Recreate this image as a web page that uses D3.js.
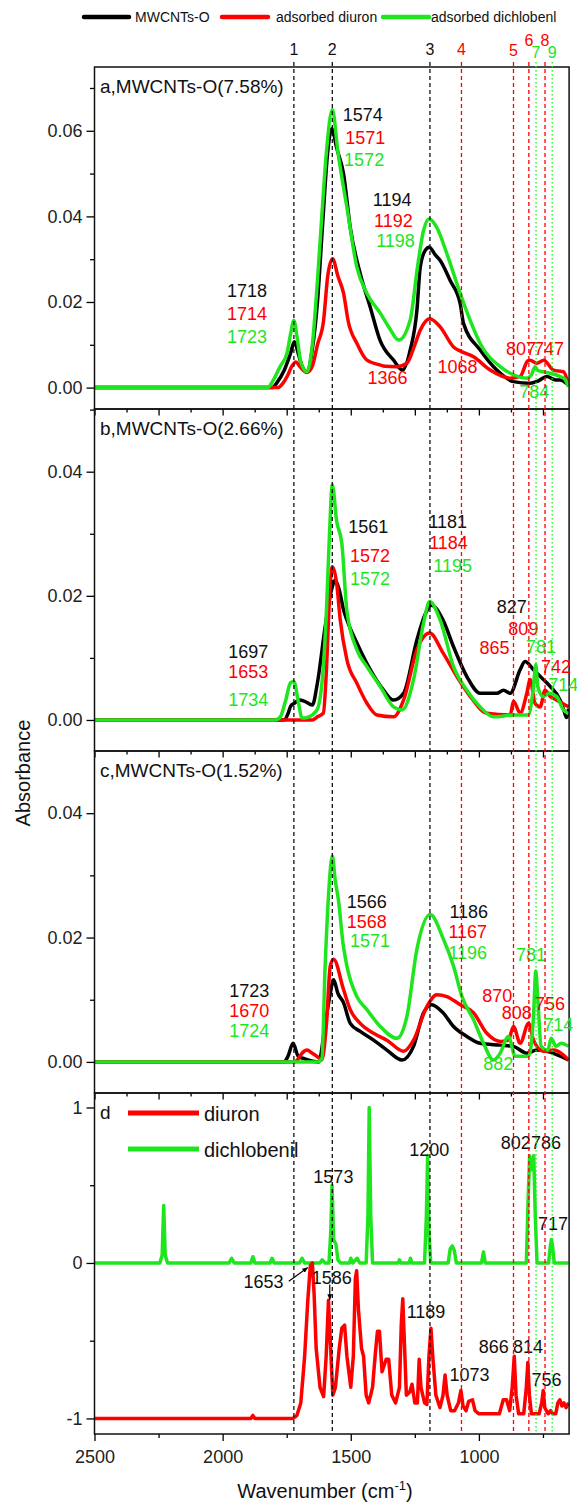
<!DOCTYPE html>
<html>
<head>
<meta charset="utf-8">
<script src="https://cdn.jsdelivr.net/npm/d3@7"></script>
<style>
  body { margin: 0; background: #fff; }
  text { font-family: "Liberation Sans", Arial, sans-serif; }
</style>
</head>
<body>
<svg id="chart" width="577" height="1504"></svg>
<script>
// --- COLOURS ---
const BLACK = "#000000", RED = "#ff0000", GREEN = "#1ee51e";
const COLORS = { k: BLACK, r: RED, g: GREEN };

// --- DATA: [wavenumber, absorbance] ---
const aBlack = [[2500,0],[1805,0],[1790,0.001],[1760,0.004],[1735,0.008],[1720,0.0107],[1705,0.008],[1690,0.005],[1671,0.0037],[1650,0.009],[1630,0.02],[1610,0.038],[1590,0.055],[1574,0.0605],[1555,0.056],[1528,0.0499],[1502,0.0374],[1463,0.0266],[1424,0.0188],[1386,0.0111],[1333,0.0064],[1298,0.0041],[1268,0.0088],[1242,0.018],[1229,0.0281],[1210,0.032],[1194,0.0328],[1170,0.031],[1151,0.0297],[1112,0.025],[1073,0.0196],[1060,0.015],[995,0.0088],[930,0.0041],[865,0.0014],[800,0.001],[770,0.0015],[735,0.0026],[700,0.0018],[683,0.0018],[650,0.0006]];
const aRed = [[2500,0],[1785,0],[1765,0.001],[1745,0.003],[1730,0.005],[1714,0.006],[1700,0.005],[1685,0.004],[1671,0.0035],[1650,0.005],[1630,0.01],[1606,0.0157],[1590,0.026],[1571,0.0301],[1550,0.026],[1528,0.022],[1510,0.0155],[1476,0.0103],[1437,0.0064],[1386,0.0053],[1366,0.005],[1320,0.0049],[1281,0.0057],[1250,0.01],[1229,0.0134],[1192,0.0161],[1151,0.0142],[1099,0.0095],[1068,0.0084],[1021,0.0072],[956,0.0041],[878,0.0022],[839,0.0026],[810,0.0062],[800,0.0064],[774,0.0057],[747,0.0064],[709,0.0041],[670,0.0037],[650,0.0006]];
const aGreen = [[2500,0],[1825,0],[1800,0.002],[1775,0.005],[1749,0.008],[1735,0.0125],[1722,0.0157],[1710,0.012],[1695,0.006],[1671,0.0037],[1650,0.01],[1630,0.025],[1613,0.04],[1595,0.055],[1572,0.065],[1550,0.055],[1515,0.0421],[1476,0.0281],[1437,0.022],[1385,0.0174],[1350,0.014],[1313,0.0111],[1268,0.0158],[1240,0.028],[1216,0.0367],[1195,0.0394],[1164,0.0374],[1125,0.0313],[1073,0.022],[1034,0.0157],[995,0.0103],[917,0.0049],[865,0.003],[813,0.0022],[795,0.003],[781,0.0049],[770,0.004],[748,0.0037],[683,0.0026],[665,0.002],[650,0.0002]];

const bBlack = [[2500,0],[1760,0],[1745,0.001],[1735,0.0022],[1720,0.0027],[1700,0.0032],[1680,0.003],[1650,0.0024],[1630,0.006],[1600,0.015],[1575,0.021],[1561,0.0225],[1545,0.021],[1528,0.0177],[1515,0.0161],[1476,0.0124],[1424,0.0081],[1372,0.0048],[1333,0.0032],[1294,0.0043],[1242,0.0129],[1210,0.017],[1185,0.0185],[1140,0.0161],[1099,0.0118],[1047,0.007],[995,0.0043],[930,0.0043],[904,0.0048],[878,0.0043],[839,0.0081],[820,0.0094],[787,0.0081],[748,0.0065],[722,0.0054],[683,0.0032],[668,0.0015],[658,0.0004],[650,0.0018]];
const bRed = [[2500,0],[1650,0],[1630,0.0005],[1607,0.0011],[1595,0.008],[1585,0.018],[1572,0.0247],[1555,0.022],[1541,0.0161],[1515,0.0097],[1476,0.0059],[1437,0.0027],[1398,0.0008],[1333,0.0005],[1294,0.0032],[1242,0.0113],[1192,0.014],[1140,0.0108],[1086,0.007],[1034,0.0038],[969,0.0011],[878,0.0008],[865,0.003],[839,0.0011],[813,0.0043],[800,0.0065],[781,0.0027],[761,0.0021],[742,0.0048],[722,0.0038],[696,0.0032],[650,0.0021]];
const bGreen = [[2500,0],[1795,0],[1775,0.0005],[1755,0.003],[1735,0.006],[1722,0.0062],[1705,0.003],[1690,0.0003],[1670,0.0004],[1632,0.0016],[1607,0.0086],[1595,0.0175],[1583,0.03],[1572,0.0379],[1555,0.032],[1535,0.0285],[1515,0.0175],[1476,0.0113],[1437,0.0086],[1385,0.0054],[1333,0.0021],[1300,0.0016],[1255,0.0065],[1216,0.0156],[1192,0.0191],[1151,0.0161],[1099,0.0086],[1047,0.0048],[995,0.0021],[943,0.0005],[865,0.0008],[807,0.0008],[787,0.0054],[778,0.0089],[770,0.0054],[750,0.0038],[724,0.0043],[697,0.0038],[670,0.0016],[650,0.001]];

const cBlack = [[2500,0],[1760,0],[1745,0.0009],[1725,0.003],[1705,0.0009],[1680,0.0005],[1625,0],[1600,0.006],[1580,0.011],[1567,0.0132],[1550,0.011],[1528,0.0095],[1502,0.0062],[1463,0.0049],[1411,0.0035],[1359,0.0019],[1300,0.0003],[1255,0.0025],[1216,0.0079],[1184,0.0092],[1140,0.0079],[1099,0.0057],[1047,0.0041],[995,0.003],[917,0.0027],[865,0.0025],[813,0.0014],[774,0.0019],[735,0.0017],[650,0.0003]];
const cRed = [[2500,0],[1720,0],[1705,0.0005],[1690,0.0014],[1671,0.0019],[1650,0.0014],[1632,0.0009],[1613,0.0003],[1595,0.006],[1580,0.0154],[1567,0.0165],[1528,0.0116],[1502,0.0084],[1463,0.0062],[1411,0.0046],[1359,0.0035],[1294,0.0017],[1255,0.0035],[1203,0.0089],[1164,0.0108],[1125,0.0105],[1073,0.0092],[1021,0.0079],[969,0.0046],[917,0.0033],[885,0.0035],[865,0.0057],[839,0.003],[806,0.0062],[787,0.0035],[748,0.0017],[709,0.0019],[670,0.0011],[650,0.0003]];
const cGreen = [[2500,0],[1630,0],[1613,0.0005],[1600,0.0154],[1585,0.028],[1572,0.0331],[1560,0.029],[1548,0.026],[1530,0.019],[1515,0.0154],[1476,0.0105],[1437,0.0084],[1385,0.0057],[1320,0.0038],[1281,0.0073],[1242,0.0181],[1190,0.0237],[1138,0.0197],[1099,0.0154],[1066,0.0105],[1021,0.0068],[982,0.003],[943,0.0003],[917,0.0014],[885,0.0041],[858,0.0009],[806,0.0009],[787,0.0073],[778,0.0146],[770,0.01],[757,0.0025],[731,0.0019],[718,0.0038],[699,0.0025],[679,0.003],[650,0.0025]];

const dGreen = [[2500,0],[2245,0],[2236,0.05],[2230,0.37],[2224,0.05],[2215,0],[1975,0],[1965,0.03],[1955,0],[1890,0],[1882,0.04],[1874,0],[1815,0],[1807,0.03],[1799,0],[1700,0],[1690,0.03],[1680,0],[1620,0],[1612,0.02],[1600,0],[1585,0],[1578,0.2],[1573,0.5],[1567,0.15],[1558,0.12],[1550,0.02],[1540,0],[1505,0],[1500,0.03],[1492,0],[1475,0.03],[1465,0],[1440,0],[1433,0.3],[1428,1.0],[1422,0.3],[1415,0],[1315,0],[1310,0.02],[1305,0],[1272,0],[1267,0.03],[1262,0],[1212,0],[1205,0.3],[1200,0.69],[1195,0.2],[1188,0],[1120,0],[1112,0.09],[1104,0.11],[1096,0.08],[1088,0],[990,0],[982,0.07],[975,0],[815,0],[808,0.4],[802,0.69],[795,0.6],[786,0.69],[780,0.3],[773,0],[728,0],[722,0.1],[717,0.15],[712,0.1],[706,0],[650,0]];
const dRed = [[2500,-1],[1890,-1],[1882,-0.98],[1874,-1],[1725,-1],[1710,-0.98],[1695,-0.9],[1680,-0.6],[1668,-0.25],[1658,-0.02],[1650,0],[1643,-0.2],[1635,-0.55],[1620,-0.8],[1606,-0.86],[1596,-0.6],[1587,-0.24],[1580,-0.5],[1570,-0.85],[1560,-0.8],[1545,-0.55],[1535,-0.42],[1524,-0.4],[1515,-0.6],[1500,-0.8],[1490,-0.6],[1482,-0.1],[1477,-0.05],[1470,-0.3],[1458,-0.55],[1450,-0.6],[1440,-0.85],[1430,-0.9],[1415,-0.8],[1405,-0.6],[1396,-0.44],[1388,-0.44],[1378,-0.7],[1362,-0.62],[1352,-0.62],[1340,-0.85],[1325,-0.9],[1310,-0.8],[1303,-0.4],[1297,-0.23],[1291,-0.5],[1283,-0.85],[1270,-0.83],[1261,-0.78],[1250,-0.9],[1240,-0.9],[1233,-0.62],[1226,-0.8],[1212,-0.9],[1203,-0.91],[1195,-0.6],[1187,-0.42],[1180,-0.6],[1168,-0.85],[1152,-0.93],[1140,-0.85],[1132,-0.72],[1124,-0.85],[1110,-0.95],[1095,-0.95],[1080,-0.9],[1070,-0.82],[1062,-0.92],[1050,-0.95],[1040,-0.89],[1025,-0.88],[1015,-0.95],[1000,-0.97],[920,-0.97],[905,-0.88],[892,-0.88],[880,-0.95],[870,-0.8],[862,-0.6],[855,-0.85],[845,-0.97],[825,-0.97],[815,-0.8],[809,-0.64],[803,-0.85],[795,-0.97],[765,-0.97],[755,-0.9],[749,-0.82],[743,-0.93],[730,-0.97],[720,-0.95],[712,-0.97],[700,-0.97],[692,-0.9],[684,-0.88],[676,-0.92],[668,-0.9],[660,-0.93],[650,-0.9]];

// peak labels: [text, colour, wavenumber, value]
const aLabels = [["1718","k",1983,0.0211],["1714","r",1983,0.0158],["1723","g",1983,0.0104],
  ["1574","k",1531,0.0623],["1571","r",1522,0.0568],["1572","g",1526,0.0518],
  ["1194","k",1414,0.0424],["1192","r",1409,0.0376],["1198","g",1401,0.0328],
  ["1366","r",1435,0.0009],["1068","r",1162,0.0034],["807","r",894,0.0076],["747","r",785,0.0076],["784","g",843,-0.0025]];
const bLabels = [["1697","k",1978,0.00995],["1653","r",1978,0.0067],["1734","g",1978,0.0022],
  ["1561","k",1510,0.0302],["1572","r",1503,0.0255],["1572","g",1503,0.0218],
  ["1181","k",1197,0.031],["1184","r",1194,0.0276],["1195","g",1178,0.0239],
  ["827","k",930,0.0172],["809","r",885,0.0137],["865","r",998,0.0107],["781","g",816,0.0108],["742","r",758,0.0076],["714","g",729,0.0046]];
const cLabels = [["1723","k",1974,0.0104],["1670","r",1974,0.0072],["1724","g",1974,0.004],
  ["1566","k",1516,0.0247],["1568","r",1516,0.0216],["1571","g",1503,0.0184],
  ["1186","k",1115,0.0231],["1167","r",1119,0.0199],["1196","g",1119,0.0166],
  ["870","r",987,0.0097],["808","r",911,0.0069],["756","r",781,0.0084],["781","g",855,0.0163],["714","g",749,0.0049],["882","g",983,-0.0013]];
const dLabels = [["1573","k",1646,0.514],["1200","k",1272,0.685],["802","k",915,0.732],["786","k",797,0.732],["717","k",769,0.214],
  ["1653","k",1919,-0.16],["1586","k",1652,-0.133],["1189","k",1282,-0.353],["1073","k",1115,-0.76],
  ["866","k",1001,-0.578],["814","k",867,-0.578],["756","k",795,-0.79]];
// arrows in panel d: [from wn, from value, to wn, to value]
const dArrows = [[1742,-0.118,1668,-0.03],[1582,-0.139,1582,-0.236]];

const panelTitles = ["a,MWCNTs-O(7.58%)", "b,MWCNTs-O(2.66%)", "c,MWCNTs-O(1.52%)", "d"];
const seriesNames = ["MWCNTs-O", "adsorbed diuron", "adsorbed dichlobenl"];
const dSeriesNames = ["diuron", "dichlobenil"];

// dashed reference lines
const refWn = [1722, 1572, 1191, 1068, 865, 805, 777, 742, 714];
const refNames = ["1","2","3","4","5","6","7","8","9"];
const refKinds = ["k","k","k","r","r","r","g","r","g"];

const xTicksMajor = [2500, 2000, 1500, 1000];

// --- LAYOUT ---
const svg = d3.select("#chart");
const X0 = 94.5, X1 = 569.1;
const x = d3.scaleLinear().domain([2500, 648]).range([X0, X1]);

const panels = [
  { top: 67,  bottom: 409,  dom: [-0.005, 0.0749], series: [[aBlack,"k"],[aRed,"r"],[aGreen,"g"]], major: [0,0.02,0.04,0.06], minor: [0.01,0.03,0.05,0.07], fmt: d3.format(".2f"), labels: aLabels },
  { top: 409, bottom: 751,  dom: [-0.005, 0.0501], series: [[bBlack,"k"],[bRed,"r"],[bGreen,"g"]], major: [0,0.02,0.04], minor: [0.01,0.03,0.05], fmt: d3.format(".2f"), labels: bLabels },
  { top: 751, bottom: 1093, dom: [-0.005, 0.0500], series: [[cBlack,"k"],[cRed,"r"],[cGreen,"g"]], major: [0,0.02,0.04], minor: [0.01,0.03], fmt: d3.format(".2f"), labels: cLabels },
  { top: 1093, bottom: 1434, dom: [-1.1, 1.093], series: [[dGreen,"g"],[dRed,"r"]], major: [-1,0,1], minor: [-0.5,0.5], fmt: d => String(d), labels: dLabels }
];

const defs = svg.append("defs");
defs.append("marker").attr("id", "arrow").attr("viewBox", "0 0 10 10")
  .attr("refX", 9).attr("refY", 5).attr("markerWidth", 5).attr("markerHeight", 5)
  .attr("orient", "auto")
  .append("path").attr("d", "M0,1 L10,5 L0,9 Z").attr("fill", BLACK);

panels.forEach((p, i) => {
  const y = d3.scaleLinear().domain(p.dom).range([p.bottom, p.top]);
  p.y = y;
  const g = svg.append("g");

  defs.append("clipPath").attr("id", "clip" + i)
    .append("rect").attr("x", X0).attr("y", p.top).attr("width", X1 - X0).attr("height", p.bottom - p.top);

  // curves
  const line = d3.line().x(d => x(d[0])).y(d => y(d[1]))
    .curve(i === 3 ? d3.curveLinear : d3.curveMonotoneX);
  g.append("g").attr("clip-path", `url(#clip${i})`)
    .selectAll("path").data(p.series).join("path")
    .attr("d", d => line(d[0]))
    .attr("fill", "none")
    .attr("stroke", d => COLORS[d[1]])
    .attr("stroke-width", 3.5)
    .attr("stroke-linejoin", "round");

  // y axis
  const yAxis = d3.axisLeft(y).tickValues(p.major).tickSize(8).tickPadding(4).tickFormat(p.fmt);
  const ya = g.append("g").attr("transform", `translate(${X0},0)`).call(yAxis);
  ya.select(".domain").remove();
  ya.selectAll("line").attr("stroke-width", 1.3);
  ya.selectAll("text").attr("font-size", 18).attr("fill", "#222")
    .style("font-family", '"Liberation Sans", Arial, sans-serif');
  const yMinor = g.append("g").attr("transform", `translate(${X0},0)`)
    .call(d3.axisLeft(y).tickValues(p.minor).tickSize(4.5).tickFormat(""));
  yMinor.select(".domain").remove();
  yMinor.selectAll("line").attr("stroke-width", 1.3);

  // bottom axis
  if (i < 3) {
    const tv = d3.range(2500, 640, -125);
    const xa = g.append("g").attr("transform", `translate(0,${p.bottom})`)
      .call(d3.axisBottom(x).tickValues(tv).tickSize(4).tickFormat(""));
    xa.select(".domain").remove();
    xa.selectAll(".tick line").attr("stroke-width", 1.3)
      .attr("y2", d => d % 250 === 0 ? 6.5 : 3.5);
  } else {
    const xa = g.append("g").attr("transform", `translate(0,${p.bottom})`)
      .call(d3.axisBottom(x).tickValues(xTicksMajor).tickSize(7).tickPadding(9).tickFormat(d3.format("d")));
    xa.select(".domain").remove();
    xa.selectAll("line").attr("stroke-width", 1.3);
    xa.selectAll("text").attr("font-size", 18).attr("fill", "#222")
      .style("font-family", '"Liberation Sans", Arial, sans-serif');
    const xm = g.append("g").attr("transform", `translate(0,${p.bottom})`)
      .call(d3.axisBottom(x).tickValues(d3.range(2250, 640, -500)).tickSize(4).tickFormat(""));
    xm.select(".domain").remove();
    xm.selectAll("line").attr("stroke-width", 1.3);
  }

  // frame
  g.append("rect").attr("x", X0).attr("y", p.top)
    .attr("width", X1 - X0).attr("height", p.bottom - p.top)
    .attr("fill", "none").attr("stroke", "#111").attr("stroke-width", 1.5);

  // title
  g.append("text").attr("x", 100).attr("y", p.top + 26)
    .attr("font-size", 19).attr("fill", "#111").text(panelTitles[i]);

  // peak labels
  g.selectAll("text.pk").data(p.labels).join("text").attr("class", "pk")
    .attr("x", d => x(d[2])).attr("y", d => y(d[3]))
    .attr("font-size", 18).attr("fill", d => d[1] === "k" ? "#111" : COLORS[d[1]])
    .text(d => d[0]);
});

// arrows in panel d
const pd = panels[3];
svg.append("g").selectAll("line").data(dArrows).join("line")
  .attr("x1", d => x(d[0])).attr("y1", d => pd.y(d[1]))
  .attr("x2", d => x(d[2])).attr("y2", d => pd.y(d[3]))
  .attr("stroke", BLACK).attr("stroke-width", 1.2).attr("marker-end", "url(#arrow)");

// panel d legend
const dLeg = svg.append("g");
[["r", 1113], ["g", 1149]].forEach((e, k) => {
  dLeg.append("line").attr("x1", 128).attr("x2", 199).attr("y1", e[1]).attr("y2", e[1])
    .attr("stroke", COLORS[e[0]]).attr("stroke-width", 5);
  dLeg.append("text").attr("x", 204).attr("y", e[1] + 8).attr("font-size", 20)
    .attr("fill", "#111").text(dSeriesNames[k]);
});

// reference lines
const refG = svg.append("g");
refWn.forEach((w, k) => {
  const kind = refKinds[k];
  refG.append("line").attr("x1", x(w)).attr("x2", x(w)).attr("y1", 62).attr("y2", 1434)
    .attr("stroke", kind === "k" ? "#111" : COLORS[kind])
    .attr("stroke-width", 1.3)
    .attr("stroke-dasharray", kind === "g" ? "1.5,2.5" : "4,3");
  const yy = (refNames[k] === "6" || refNames[k] === "8") ? 46 : (kind === "g" ? 58 : (refNames[k] === "5" ? 56 : 55));
  refG.append("text").attr("x", x(w)).attr("y", yy).attr("text-anchor", "middle")
    .attr("font-size", 16).attr("fill", kind === "k" ? "#111" : COLORS[kind]).text(refNames[k]);
});

// top legend
const leg = svg.append("g");
const legPos = [[84, 129, 135, "k"], [222, 268, 276, "r"], [383, 429, 431, "g"]];
legPos.forEach((e, k) => {
  leg.append("line").attr("x1", e[0]).attr("x2", e[1]).attr("y1", 17).attr("y2", 17)
    .attr("stroke", COLORS[e[3]]).attr("stroke-width", 4.5).attr("stroke-linecap", "round");
  leg.append("text").attr("x", e[2]).attr("y", 22).attr("font-size", 14)
    .attr("fill", "#111").text(seriesNames[k]);
});

// axis titles
svg.append("text").attr("transform", "translate(30,773) rotate(-90)")
  .attr("text-anchor", "middle").attr("font-size", 20).attr("fill", "#111").text("Absorbance");
const xt = svg.append("text").attr("x", 325).attr("y", 1498).attr("text-anchor", "middle")
  .attr("font-size", 20).attr("fill", "#111");
xt.append("tspan").text("Wavenumber (cm");
xt.append("tspan").attr("font-size", 13).attr("dy", -8).text("-1");
xt.append("tspan").attr("dy", 8).text(")");
</script>
</body>
</html>
